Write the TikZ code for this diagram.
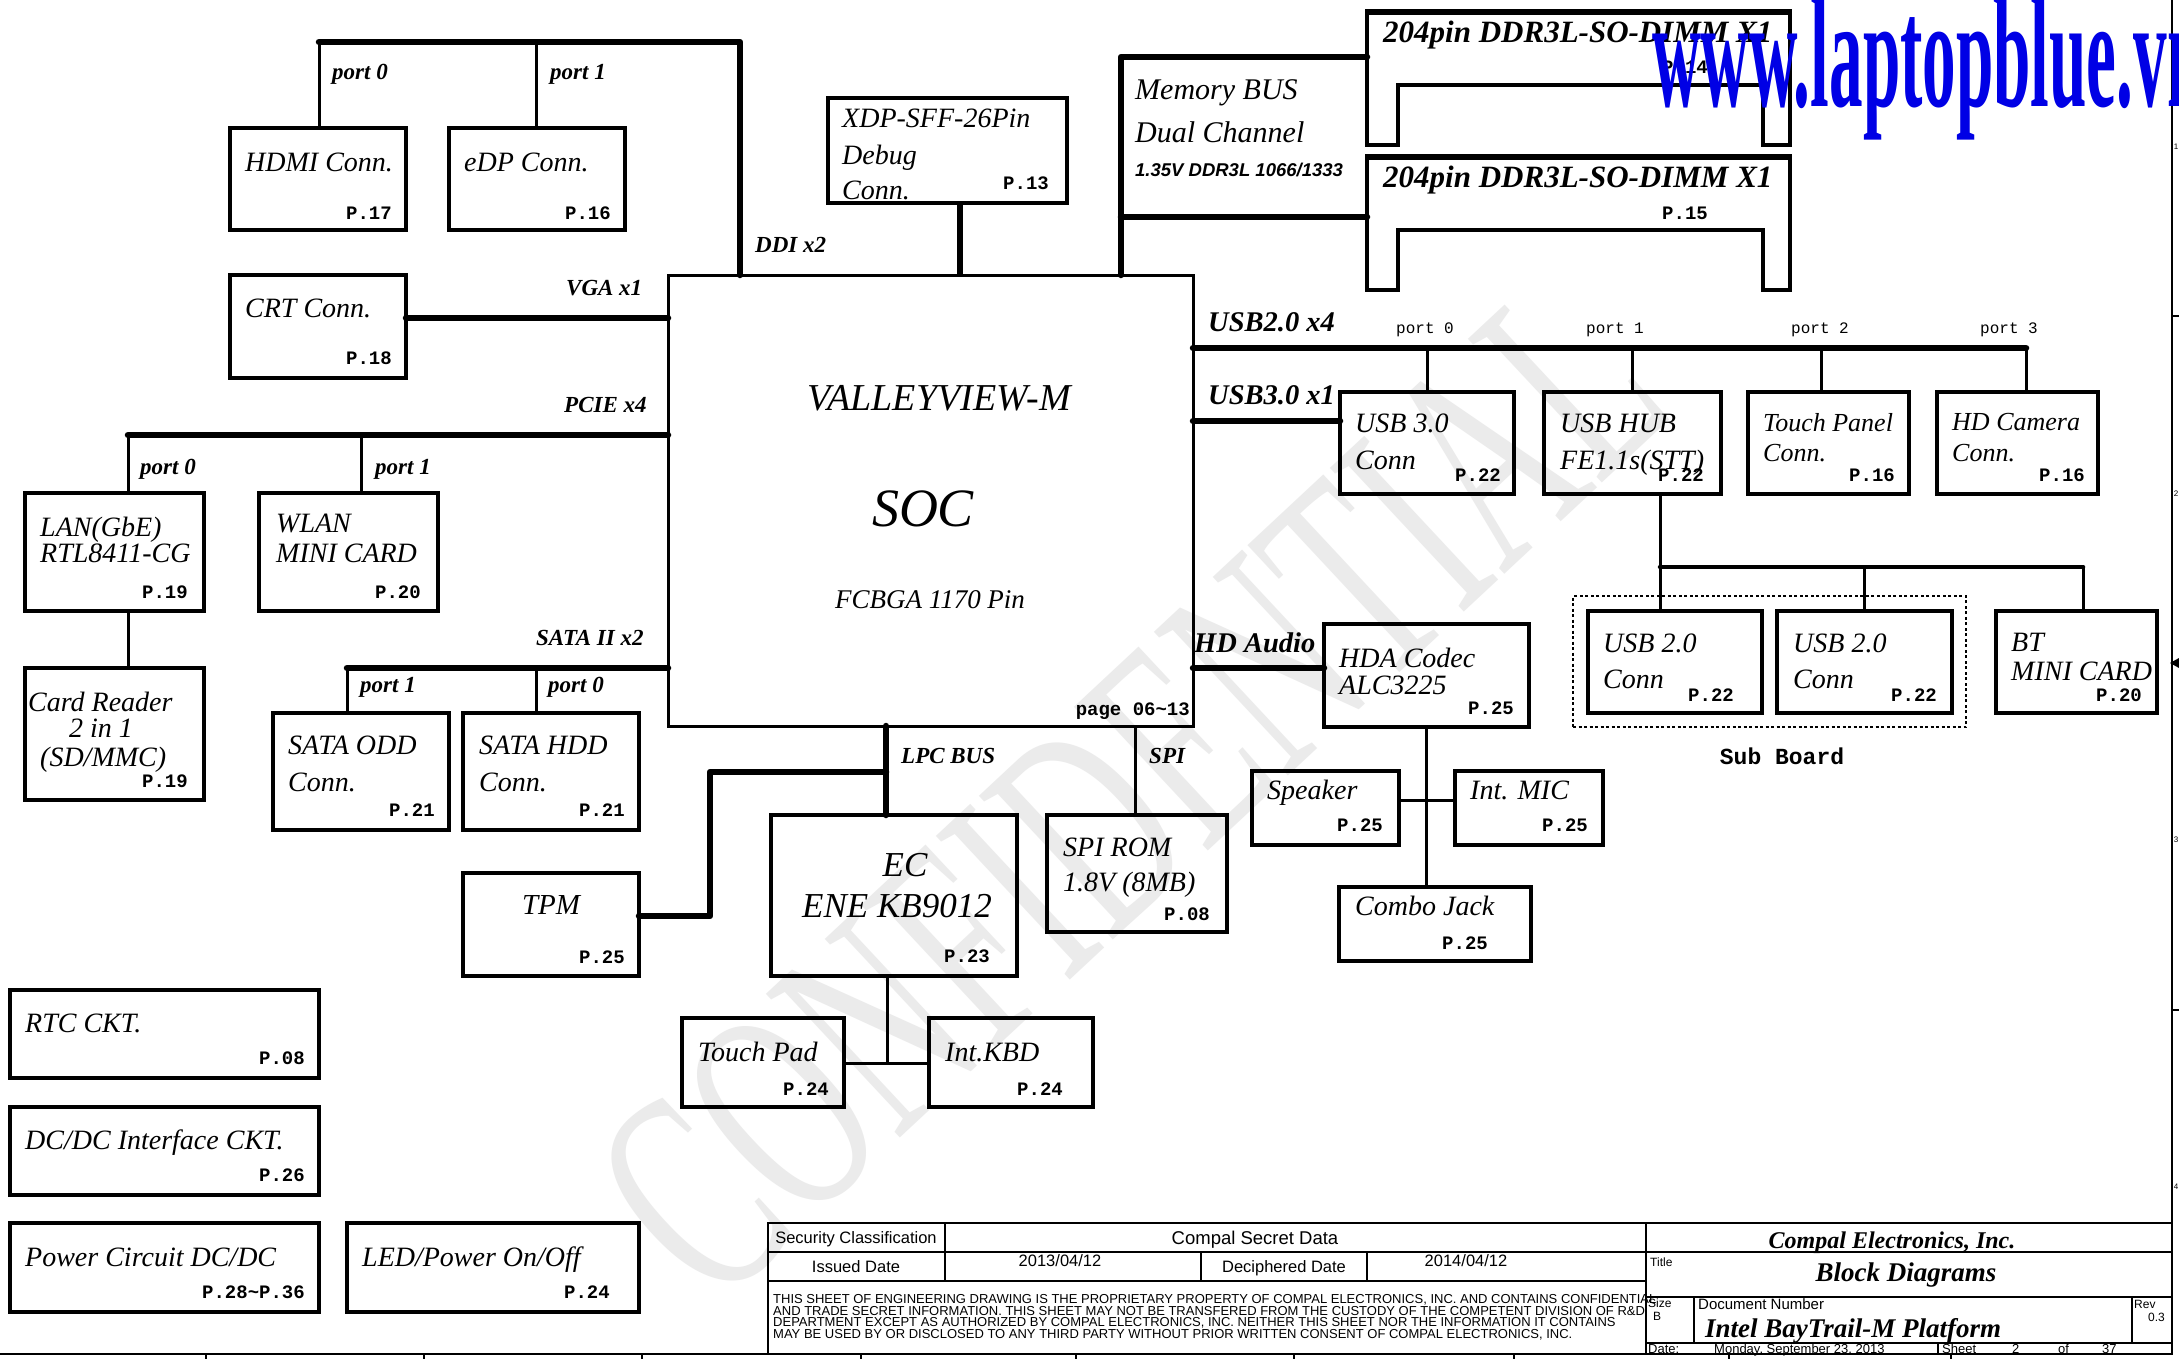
\documentclass[tikz,border=0pt]{standalone}
\usepackage{fontspec}
\setmainfont{Liberation Serif}
\newfontfamily\monof{Liberation Mono}
\newfontfamily\sansf{Liberation Sans}
\usetikzlibrary{calc}
\newcommand\fsz[1]{\fontsize{#1}{#1}\selectfont}
\newcommand\bx[6][]{\node[box,#1, minimum width={(#5)-(#3)}, minimum height={(#6)-(#4)}] (#2) at ({((#3)+(#5))/2},{((#4)+(#6))/2}) {};}
\begin{document}
\begin{tikzpicture}[x=1pt,y=-1pt,
  box/.style={draw, line width=4pt, inner sep=0pt, outer sep=0pt},
  wire/.style={line width=3pt},
  bus/.style={line width=6.5pt, line cap=round, line join=round},
  mbus/.style={line width=4.5pt, line cap=round},
  dimm/.style={line width=4.5pt, line join=miter},
  tx/.style={anchor=west, inner sep=0pt, text depth=0pt, font=\itshape\fsz{28}},
  txc/.style={anchor=center, inner sep=0pt, text depth=0pt, font=\itshape\fsz{28}},
  pg/.style={anchor=east, inner sep=0pt, text depth=0pt, font=\monof\bfseries\fsz{19}},
  lb/.style={anchor=west, inner sep=0pt, text depth=0pt, font=\bfseries\itshape\fsz{23}},
  lbb/.style={anchor=west, inner sep=0pt, text depth=0pt, font=\bfseries\itshape\fsz{28.5}},
  pm/.style={anchor=west, inner sep=0pt, text depth=0pt, font=\monof\fsz{16}},
  tb/.style={inner sep=0pt, text depth=0pt, font=\sansf\fsz{16.5}},
  tbs/.style={anchor=west, inner sep=0pt, text depth=0pt, font=\sansf\fsz{12}},
  tl/.style={line width=1.5pt},
]
\fill[white] (0,0) rectangle (2179,1359);
\useasboundingbox (0,0) rectangle (2179,1359);

% faint watermark
\node[rotate=43, text=black!8, inner sep=0pt, font=\fsz{300}] (wmconf) at (1130,790) {\scalebox{0.6}[1]{CONFIDENTIAL}};

% ---------- boxes ----------
\bx{hdmi}{230}{128}{406}{230}
\bx{edp}{449}{128}{625}{230}
\bx{crt}{230}{275}{406}{378}
\bx{lan}{25}{493}{204}{611}
\bx{wlan}{259}{493}{438}{611}
\bx{card}{25}{668}{204}{800}
\bx{odd}{273}{713}{449}{830}
\bx{hdd}{463}{713}{639}{830}
\bx{tpm}{463}{873}{639}{976}
\bx{rtc}{10}{990}{319}{1078}
\bx{dcdc}{10}{1107}{319}{1195}
\bx{pwr}{10}{1223}{319}{1312}
\bx{led}{347}{1223}{639}{1312}
\bx{xdp}{828}{98}{1067}{203}
\bx[line width=3pt]{soc}{668}{275}{1193}{726}
\bx{ec}{771}{815}{1017}{976}
\bx{spirom}{1047}{815}{1227}{932}
\bx{tpad}{682}{1018}{844}{1107}
\bx{kbd}{929}{1018}{1093}{1107}
\bx{usb3}{1340}{392}{1514}{494}
\bx{hub}{1544}{392}{1721}{494}
\bx{touch}{1748}{392}{1909}{494}
\bx{cam}{1937}{392}{2098}{494}
\bx{usb2a}{1588}{611}{1762}{713}
\bx{usb2b}{1777}{611}{1952}{713}
\bx{bt}{1996}{611}{2157}{713}
\bx{hda}{1324}{624}{1529}{727}
\bx{spk}{1252}{771}{1399}{845}
\bx{mic}{1455}{771}{1603}{845}
\bx{combo}{1339}{887}{1531}{961}
\bx[line width=1.5pt, dash pattern=on 3pt off 2.5pt]{sub}{1573}{596}{1966}{727}

% ---------- DIMM slots ----------
\draw[dimm] (1367,12) -- (1790,12) -- (1790,145) -- (1763,145) -- (1763,85) -- (1398,85) -- (1398,145) -- (1367,145) -- cycle;
\draw[line width=6.5pt] (1365,12) -- (1792,12);
\draw[dimm] (1367,157) -- (1790,157) -- (1790,290) -- (1763,290) -- (1763,230) -- (1398,230) -- (1398,290) -- (1367,290) -- cycle;
\draw[line width=6.5pt] (1365,157) -- (1792,157);
\coordinate (dimmA) at (1367,57);
\coordinate (dimmB) at (1367,217);

% ---------- connectors ----------
% DDI
\coordinate (ddiA) at (319,42); \coordinate (ddiP) at (536,42); \coordinate (ddiB) at (740,42);
\draw[wire] (ddiA) -- (ddiA |- hdmi.north);
\draw[wire] (ddiP) -- (ddiP |- edp.north);
\draw[bus] (ddiA) -- (ddiB) -- (ddiB |- soc.north);
% VGA
\coordinate (vga) at (668,318);
\draw[bus] (crt.east |- vga) -- (vga);
% PCIE
\coordinate (pcie0) at (128,435); \coordinate (pcie1) at (361,435); \coordinate (pcieR) at (668,435);
\draw[wire] (pcie0) -- (pcie0 |- lan.north);
\draw[wire] (pcie1) -- (pcie1 |- wlan.north);
\draw[wire] (pcie0 |- lan.south) -- (pcie0 |- card.north);
\draw[bus] (pcie0) -- (pcieR);
% SATA
\coordinate (sata1) at (347,668); \coordinate (sata0) at (536,668); \coordinate (sataR) at (668,668);
\draw[wire] (sata1) -- (sata1 |- odd.north);
\draw[wire] (sata0) -- (sata0 |- hdd.north);
\draw[bus] (sata1) -- (sataR);
% XDP
\coordinate (xdpx) at (960,0);
\draw[line width=6.5pt] (xdp.south -| xdpx) -- (soc.north -| xdpx);
% Memory
\coordinate (memx) at (1121,0);
\draw[bus] (soc.north -| memx) -- (memx |- dimmA) -- (dimmA);
\draw[bus] (memx |- dimmB) -- (dimmB);
% USB 2.0
\coordinate (u2L) at (1193,348); \coordinate (u2R) at (2026,348);
\coordinate (u2p0) at (1427,348); \coordinate (u2p1) at (1632,348); \coordinate (u2p2) at (1821,348);
\draw[wire] (u2p0) -- (u2p0 |- usb3.north);
\draw[wire] (u2p1) -- (u2p1 |- hub.north);
\draw[wire] (u2p2) -- (u2p2 |- touch.north);
\draw[wire] (u2R) -- (u2R |- cam.north);
\draw[bus] (u2L) -- (u2R);
% USB 3.0
\coordinate (u3L) at (1193,421);
\draw[bus] (u3L) -- (usb3.west |- u3L);
% hub to sub board
\coordinate (sbL) at (1660,567); \coordinate (sbM) at (1864,567); \coordinate (sbR) at (2083,567);
\draw[wire] (hub.south -| sbL) -- (sbL);
\draw[wire] (sbL) -- (sbL |- usb2a.north);
\draw[wire] (sbM) -- (sbM |- usb2b.north);
\draw[wire] (sbR) -- (sbR |- bt.north);
\draw[mbus] (sbL) -- (sbR);
% HD audio
\coordinate (hdaL) at (1193,668);
\draw[bus] (hdaL) -- (hda.west |- hdaL);
\draw[wire] (hda.south) -- (hda.south |- combo.north);
\coordinate (spkY) at (0,800);
\draw[wire] (spk.east |- spkY) -- (mic.west |- spkY);
% LPC
\coordinate (lpcx) at (886,0);
\coordinate (tpmA) at (886,772); \coordinate (tpmB) at (710,772); \coordinate (tpmC) at (710,916);
\draw[bus] (soc.south -| lpcx) -- (ec.north -| lpcx);
\draw[bus] (tpmA) -- (tpmB) -- (tpmC) -- (tpm.east |- tpmC);
% SPI
\coordinate (spix) at (1135,0);
\draw[wire] (soc.south -| spix) -- (spirom.north -| spix);
% EC to touch pad / KBD
\coordinate (ecj) at (887,1063);
\draw[wire] (ec.south -| ecj) -- (ecj);
\draw[wire] (tpad.east |- ecj) -- (kbd.west |- ecj);

% ---------- bus labels ----------
\node[lb] (lp0) at (332,72) {port 0};
\node[lb] (lp1) at (550,72) {port 1};
\node[lb] (lddi) at (755,245) {DDI x2};
\node[lb] (lvga) at (566,288) {VGA x1};
\node[lb] (lpcie) at (564,405) {PCIE x4};
\node[lb] (lp2) at (140,467) {port 0};
\node[lb] (lp3) at (375,467) {port 1};
\node[lb] (lsata) at (536,638) {SATA II x2};
\node[lb] (lp4) at (360,685) {port 1};
\node[lb] (lp5) at (548,685) {port 0};
\node[lb] (llpc) at (901,756) {LPC BUS};
\node[lb] (lspi) at (1149,756) {SPI};
\node[lbb] (lusb2) at (1208,322) {USB2.0 x4};
\node[lbb] (lusb3) at (1208,395) {USB3.0 x1};
\node[lbb] (lhdau) at (1194,643) {HD Audio};
\node[pm] (up0) at (1396,328) {port 0};
\node[pm] (up1) at (1586,328) {port 1};
\node[pm] (up2) at (1791,328) {port 2};
\node[pm] (up3) at (1980,328) {port 3};

% ---------- box texts ----------
\node[tx] (hdmiT) at (245,162) {HDMI Conn.};
\node[pg] (hdmiP) at (392,213) {P.17};
\node[tx] (edpT) at (464,162) {eDP Conn.};
\node[pg] (edpP) at (611,213) {P.16};
\node[tx] (crtT) at (245,308) {CRT Conn.};
\node[pg] (crtP) at (392,358) {P.18};
\node[tx] (lanT1) at (40,527) {LAN(GbE)};
\node[tx] (lanT2) at (40,553) {RTL8411-CG};
\node[pg] (lanP) at (188,592) {P.19};
\node[tx] (wlanT1) at (276,523) {WLAN};
\node[tx] (wlanT2) at (276,553) {MINI CARD};
\node[pg] (wlanP) at (421,592) {P.20};
\node[tx] (cardT1) at (28,702) {Card Reader};
\node[tx] (cardT2) at (69,728) {2 in 1};
\node[tx] (cardT3) at (40,757) {(SD/MMC)};
\node[pg] (cardP) at (188,781) {P.19};
\node[tx] (oddT1) at (288,745) {SATA ODD};
\node[tx] (oddT2) at (288,782) {Conn.};
\node[pg] (oddP) at (435,810) {P.21};
\node[tx] (hddT1) at (479,745) {SATA HDD};
\node[tx] (hddT2) at (479,782) {Conn.};
\node[pg] (hddP) at (625,810) {P.21};
\node[txc, font=\itshape\fsz{29}] (tpmT) at (551,905) {TPM};
\node[pg] (tpmP) at (625,957) {P.25};
\node[tx] (rtcT) at (25,1023) {RTC CKT.};
\node[pg] (rtcP) at (305,1058) {P.08};
\node[tx] (dcdcT) at (25,1140) {DC/DC Interface CKT.};
\node[pg] (dcdcP) at (305,1175) {P.26};
\node[tx] (pwrT) at (25,1257) {Power Circuit DC/DC};
\node[pg] (pwrP) at (305,1292) {P.28\textasciitilde P.36};
\node[tx] (ledT) at (362,1257) {LED/Power On/Off};
\node[pg] (ledP) at (610,1292) {P.24};
\node[tx] (xdpT1) at (842,118) {XDP-SFF-26Pin};
\node[tx] (xdpT2) at (842,155) {Debug};
\node[tx] (xdpT3) at (842,190) {Conn.};
\node[pg] (xdpP) at (1049,183) {P.13};
\node[tx, font=\itshape\fsz{30}] (memT1) at (1135,90) {Memory BUS};
\node[tx, font=\itshape\fsz{30}] (memT2) at (1135,132) {Dual Channel};
\node[tx, font=\sansf\bfseries\itshape\fsz{18.5}] (memT3) at (1135,170) {1.35V DDR3L 1066/1333};
\node[tx, font=\bfseries\itshape\fsz{31}] (dimmT1) at (1383,32) {204pin DDR3L-SO-DIMM X1};
\node[pg, anchor=west] (dimmP1) at (1662,67) {P.14};
\node[tx, font=\bfseries\itshape\fsz{31}] (dimmT2) at (1383,177) {204pin DDR3L-SO-DIMM X1};
\node[pg, anchor=west] (dimmP2) at (1662,213) {P.15};
\node[txc, font=\itshape\fsz{38}] (socT1) at (939,398) {VALLEYVIEW-M};
\node[txc, font=\itshape\fsz{54}] (socT2) at (923,509) {SOC};
\node[txc, font=\itshape\fsz{27}] (socT3) at (930,600) {FCBGA 1170 Pin};
\node[pg] (socP) at (1190,709) {page 06\textasciitilde 13};
\node[txc, font=\itshape\fsz{35}] (ecT1) at (905,865) {EC};
\node[txc, font=\itshape\fsz{35}] (ecT2) at (897,906) {ENE KB9012};
\node[pg] (ecP) at (990,956) {P.23};
\node[tx] (spiT1) at (1063,847) {SPI ROM};
\node[tx] (spiT2) at (1063,882) {1.8V (8MB)};
\node[pg] (spiP) at (1210,914) {P.08};
\node[tx] (tpadT) at (698,1052) {Touch Pad};
\node[pg] (tpadP) at (829,1089) {P.24};
\node[tx] (kbdT) at (945,1052) {Int.KBD};
\node[pg] (kbdP) at (1063,1089) {P.24};
\node[tx] (usb3T1) at (1355,423) {USB 3.0};
\node[tx] (usb3T2) at (1355,460) {Conn};
\node[pg] (usb3P) at (1501,475) {P.22};
\node[tx] (hubT1) at (1560,423) {USB HUB};
\node[tx] (hubT2) at (1560,460) {FE1.1s(STT)};
\node[pg] (hubP) at (1704,475) {P.22};
\node[tx, font=\itshape\fsz{26}] (touchT1) at (1763,422) {Touch Panel};
\node[tx, font=\itshape\fsz{26}] (touchT2) at (1763,453) {Conn.};
\node[pg] (touchP) at (1895,475) {P.16};
\node[tx, font=\itshape\fsz{26}] (camT1) at (1952,422) {HD Camera};
\node[tx, font=\itshape\fsz{26}] (camT2) at (1952,453) {Conn.};
\node[pg] (camP) at (2085,475) {P.16};
\node[tx] (u2aT1) at (1603,643) {USB 2.0};
\node[tx] (u2aT2) at (1603,679) {Conn};
\node[pg] (u2aP) at (1734,695) {P.22};
\node[tx] (u2bT1) at (1793,643) {USB 2.0};
\node[tx] (u2bT2) at (1793,679) {Conn};
\node[pg] (u2bP) at (1937,695) {P.22};
\node[tx] (btT1) at (2011,642) {BT};
\node[tx] (btT2) at (2011,671) {MINI CARD};
\node[pg] (btP) at (2142,695) {P.20};
\node[inner sep=0pt, text depth=0pt, font=\monof\bfseries\fsz{23}] (subT) at (1782,756) {Sub Board};
\node[tx] (hdaT1) at (1339,658) {HDA Codec};
\node[tx] (hdaT2) at (1339,685) {ALC3225};
\node[pg] (hdaP) at (1514,708) {P.25};
\node[tx] (spkT) at (1267,790) {Speaker};
\node[pg] (spkP) at (1383,825) {P.25};
\node[tx] (micT) at (1470,790) {Int. MIC};
\node[pg] (micP) at (1588,825) {P.25};
\node[tx] (comboT) at (1355,906) {Combo Jack};
\node[pg] (comboP) at (1488,943) {P.25};

% ---------- sheet frame ----------
\draw[line width=2pt] (0,1354) -- (2172,1354) -- (2172,0);
\foreach \tk in {206,642,1076,1514,1951} \draw[line width=1.2pt] (\tk,1354) -- (\tk,1359);
\foreach \tk in {424,861,1294,1729} \draw[line width=1.5pt] (\tk,1354) -- (\tk,1359);
\draw[line width=1.2pt] (2172,316) -- (2179,316);
\draw[line width=1.2pt] (2172,1010) -- (2179,1010);
\fill (2170,663) -- (2179,658) -- (2179,668) -- cycle;
\node[inner sep=0pt, font=\sansf\fsz{8}] (zn1) at (2176,147) {1};
\node[inner sep=0pt, font=\sansf\fsz{8}] (zn2) at (2176,494) {2};
\node[inner sep=0pt, font=\sansf\fsz{8}] (zn3) at (2176,840) {3};
\node[inner sep=0pt, font=\sansf\fsz{8}] (zn4) at (2176,1187) {4};

% ---------- title block ----------
\draw[line width=2pt] (768,1223) rectangle (2172,1354);
\draw[tl] (1646,1223) -- (1646,1354);
\draw[tl] (768,1252) -- (2172,1252);
\draw[tl] (768,1281) -- (1646,1281);
\draw[tl] (945,1223) -- (945,1281);
\draw[tl] (1201,1252) -- (1201,1281);
\draw[tl] (1367,1252) -- (1367,1281);
\draw[tl] (1646,1297) -- (2172,1297);
\draw[tl] (1646,1343) -- (2172,1343);
\draw[tl] (1694,1297) -- (1694,1343);
\draw[tl] (2132,1297) -- (2132,1343);
\draw[tl] (1938,1343) -- (1938,1354);
\node[tb] (tbsec) at (856,1238) {Security Classification};
\node[tb, font=\sansf\fsz{18.5}] (tbcsd) at (1255,1238) {Compal Secret Data};
\node[tb] (tbiss) at (856,1267) {Issued Date};
\node[tb] (tbd1) at (1060,1261) {2013/04/12};
\node[tb] (tbdec) at (1284,1267) {Deciphered Date};
\node[tb] (tbd2) at (1466,1261) {2014/04/12};
\node[tbs, font=\sansf\fsz{13}] (disc1) at (773,1299) {THIS SHEET OF ENGINEERING DRAWING IS THE PROPRIETARY PROPERTY OF COMPAL ELECTRONICS, INC. AND CONTAINS CONFIDENTIAL};
\node[tbs, font=\sansf\fsz{13}] (disc2) at (773,1311) {AND TRADE SECRET INFORMATION. THIS SHEET MAY NOT BE TRANSFERED FROM THE CUSTODY OF THE COMPETENT DIVISION OF R\&D};
\node[tbs, font=\sansf\fsz{13}] (disc3) at (773,1322) {DEPARTMENT EXCEPT AS AUTHORIZED BY COMPAL ELECTRONICS, INC. NEITHER THIS SHEET NOR THE INFORMATION IT CONTAINS};
\node[tbs, font=\sansf\fsz{13}] (disc4) at (773,1334) {MAY BE USED BY OR DISCLOSED TO ANY THIRD PARTY WITHOUT PRIOR WRITTEN CONSENT OF COMPAL ELECTRONICS, INC.};
\node[inner sep=0pt, text depth=0pt, font=\bfseries\itshape\fsz{24}] (tbco) at (1892,1240) {Compal Electronics, Inc.};
\node[tbs] (tbtit) at (1650,1262) {Title};
\node[inner sep=0pt, text depth=0pt, font=\bfseries\itshape\fsz{27}] (tbbd) at (1906,1272) {Block Diagrams};
\node[tbs] (tbsz) at (1648,1303) {Size};
\node[tbs] (tbb) at (1653,1316) {B};
\node[tbs, font=\sansf\fsz{15}] (tbdn) at (1698,1304) {Document Number};
\node[anchor=west, inner sep=0pt, text depth=0pt, font=\bfseries\itshape\fsz{27}] (tbplat) at (1705,1328) {Intel BayTrail-M Platform};
\node[tbs] (tbrev) at (2134,1304) {Rev};
\node[tbs] (tbrv) at (2148,1317) {0.3};
\node[tbs, font=\sansf\fsz{13}] (tbdate) at (1648,1349) {Date:};
\node[tbs, font=\sansf\fsz{13}] (tbday) at (1714,1349) {Monday, September 23, 2013};
\node[tbs, font=\sansf\fsz{13}] (tbsh) at (1942,1349) {Sheet};
\node[tbs, font=\sansf\fsz{13}] (tbsn) at (2012,1349) {2};
\node[tbs, font=\sansf\fsz{13}] (tbof) at (2058,1349) {of};
\node[tbs, font=\sansf\fsz{13}] (tbtot) at (2102,1349) {37};

% ---------- blue watermark ----------
\node[anchor=base west, inner sep=0pt, text=blue!90!black, font=\bfseries\fsz{158}] (wmblue) at (1652,107) {\scalebox{0.425}[1]{www.laptopblue.vn}};
\end{tikzpicture}
\end{document}
